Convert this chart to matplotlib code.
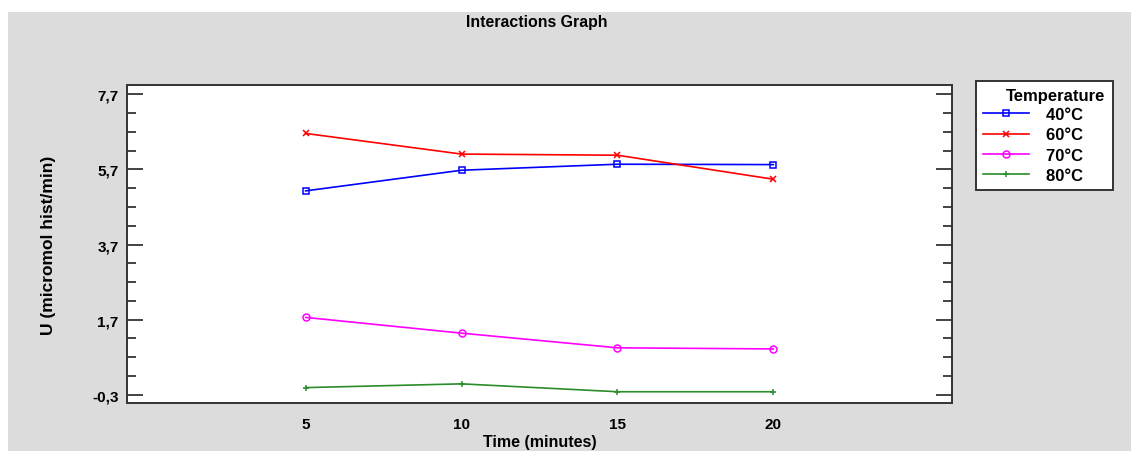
import matplotlib
matplotlib.use("Agg")
import matplotlib.pyplot as plt
from matplotlib.patches import Rectangle
from matplotlib.ticker import FixedLocator

plt.rcParams['font.family'] = ['Liberation Sans', 'DejaVu Sans']

# interaction means: response U by time for each temperature
time_min = [5, 10, 15, 20]
temps = ['40°C', '60°C', '70°C', '80°C']
u_40 = [5.13, 5.68, 5.84, 5.83]
u_60 = [6.66, 6.11, 6.08, 5.44]
u_70 = [1.76, 1.34, 0.95, 0.92]
u_80 = [-0.11, -0.01, -0.22, -0.22]
y_ticks = [-0.3, 1.7, 3.7, 5.7, 7.7]

series = [u_40, u_60, u_70, u_80]
colors = ['#0000ff', '#ff0000', '#ff00ff', '#2a8c2a']
markers = ['s', 'x', 'o', '+']

fig = plt.figure(figsize=(11.31, 4.52), dpi=100, facecolor='white')
# grey panel behind the chart
fig.add_artist(Rectangle((8 / 1131, 0), 1, 1 - 13 / 452, transform=fig.transFigure,
                         facecolor='#dcdcdc', edgecolor='none', zorder=-5))

ax = fig.add_axes([127 / 1131, 1 - 404 / 452, 825 / 1131, 318 / 452])
ax.set_facecolor('white')

for vals, lab, c, m in zip(series, temps, colors, markers):
    # trailing spaces widen the legend rows so the title sits at the right
    ax.plot(time_min, vals, color=c, lw=1.2, marker=m, markersize=5,
            markerfacecolor='none', markeredgecolor=c, markeredgewidth=1.1,
            label=lab + '     ')

ax.set_xlim(-0.73, 25.73)
ax.set_ylim(-0.52, 7.95)

ax.xaxis.set_major_locator(FixedLocator(time_min))
ax.set_xticklabels([str(t) for t in time_min], fontsize=11, fontweight='bold')
ax.tick_params(axis='x', length=0, pad=10)

ax.yaxis.set_major_locator(FixedLocator(y_ticks))
ax.yaxis.set_minor_locator(FixedLocator([-0.3 + 0.5 * k for k in range(17)]))
ax.set_yticklabels([f'{v:.1f}'.replace('.', ',') for v in y_ticks], fontsize=11, fontweight='bold')
ax.tick_params(axis='y', which='both', direction='in', left=True, right=True, color='#222222', width=1.2)
ax.tick_params(axis='y', which='major', length=11.5, pad=6)
ax.tick_params(axis='y', which='minor', length=6.5)

for s in ax.spines.values():
    s.set_color('#333333')
    s.set_linewidth(1.4)

ax.set_xlabel('Time (minutes)', fontsize=11.5, fontweight='bold', labelpad=2)
ax.set_ylabel('U (micromol hist/min)', fontsize=12.5, fontweight='bold', labelpad=26)
fig.text(537 / 1131, 1 - 23 / 452, 'Interactions Graph', ha='center', va='center',
         fontsize=11.4, fontweight='bold')

leg = ax.legend(title='Temperature', loc='upper left', bbox_to_anchor=(976 / 1131, 1 - 82 / 452),
                bbox_transform=fig.transFigure, frameon=True, fancybox=False, framealpha=1,
                facecolor='white', prop={'size': 12, 'weight': 'bold'},
                title_fontproperties={'size': 12, 'weight': 'bold'},
                handlelength=2.75, handletextpad=1.0, borderpad=0.42, labelspacing=0.32,
                borderaxespad=0)
leg.get_frame().set_edgecolor('#333333')
leg.get_frame().set_linewidth(1.4)
leg._legend_box.align = 'right'
leg._legend_box.sep = 3

fig.savefig('out.png', dpi=100, facecolor=fig.get_facecolor())
